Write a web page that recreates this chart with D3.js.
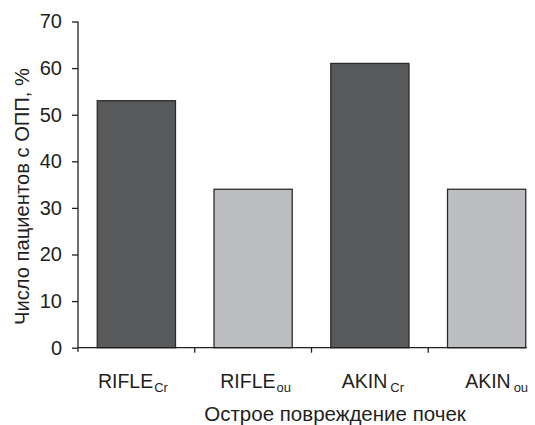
<!DOCTYPE html>
<html><head><meta charset="utf-8">
<script src="https://cdn.jsdelivr.net/npm/d3@7/dist/d3.min.js"></script>
<style>body{margin:0;background:#fff}text,tspan{font-family:"Liberation Sans",Arial,sans-serif;fill:#231f20}</style>
</head><body>
<svg id="c" width="535" height="425"></svg>
<script>
const categories = ["RIFLE", "RIFLE", "AKIN", "AKIN"];
const subscripts = ["Cr", "ou", "Cr", "ou"];
const values = [53, 34, 61, 34];
const groups = ["Cr", "ou", "Cr", "ou"];
const yTicks = [0, 10, 20, 30, 40, 50, 60, 70];
const yTitle = "Число пациентов с ОПП, %";
const xTitle = "Острое повреждение почек";

const fills = {Cr: "#58595b", ou: "#bcbec1"};
const svg = d3.select("#c");
const x0 = 78, x1 = 545, yTop = 21.5, yBot = 347.7;
const idx = categories.map((d, i) => i);
const x = d3.scaleBand().domain(idx).range([x0, x1]).paddingInner(0.33).paddingOuter(0.165);
const y = d3.scaleLinear().domain([0, 70]).range([yBot, yTop]);

// bars
svg.append("g").selectAll("rect").data(idx).join("rect")
  .attr("x", i => x(i)).attr("width", x.bandwidth())
  .attr("y", i => y(values[i])).attr("height", i => y(0) - y(values[i]))
  .attr("fill", i => fills[groups[i]]).attr("stroke", "#2b2b2b").attr("stroke-width", 1.3);

// y axis
const ya = svg.append("g").attr("transform", `translate(${x0},0)`)
  .call(d3.axisLeft(y).tickValues(yTicks).tickSize(6).tickPadding(10));
ya.select(".domain").remove();
ya.selectAll("line").attr("stroke", "#231f20").attr("stroke-width", 1.3);
ya.selectAll("text").style("font-size", "20px").attr("fill", "#231f20");
svg.append("line").attr("x1", x0).attr("x2", x0).attr("y1", y(70)).attr("y2", yBot + 4)
  .attr("stroke", "#231f20").attr("stroke-width", 1.3);

// x axis line
svg.append("line").attr("x1", x0).attr("x2", x(3) + x.bandwidth() + 1).attr("y1", yBot).attr("y2", yBot)
  .attr("stroke", "#231f20").attr("stroke-width", 1.3);
// boundary ticks
svg.append("g").selectAll("line").data([1, 2, 3]).join("line")
  .attr("x1", i => x0 + i * x.step()).attr("x2", i => x0 + i * x.step())
  .attr("y1", yBot).attr("y2", yBot + 5).attr("stroke", "#231f20").attr("stroke-width", 1.3);

// x labels
const labOff = [-3.5, 2.5, 3, 10];
const lab = svg.append("g").selectAll("text").data(idx).join("text")
  .attr("x", i => x(i) + x.bandwidth() / 2 + labOff[i]).attr("y", 388)
  .attr("text-anchor", "middle").style("font-size", "19.5px");
lab.append("tspan").text(i => categories[i]);
lab.append("tspan").attr("dx", i => i >= 2 ? 3 : 1).attr("dy", 4).style("font-size", "13px")
  .attr("fill", "#231f20").text(i => subscripts[i]);

// titles
svg.append("text").attr("x", 335).attr("y", 421).attr("text-anchor", "middle")
  .style("font-size", "20.5px").text(xTitle);
svg.append("text").attr("transform", "translate(29,196.5) rotate(-90)").attr("text-anchor", "middle")
  .attr("textLength", 257).attr("lengthAdjust", "spacingAndGlyphs")
  .style("font-size", "20px").text(yTitle);
</script>
</body></html>
